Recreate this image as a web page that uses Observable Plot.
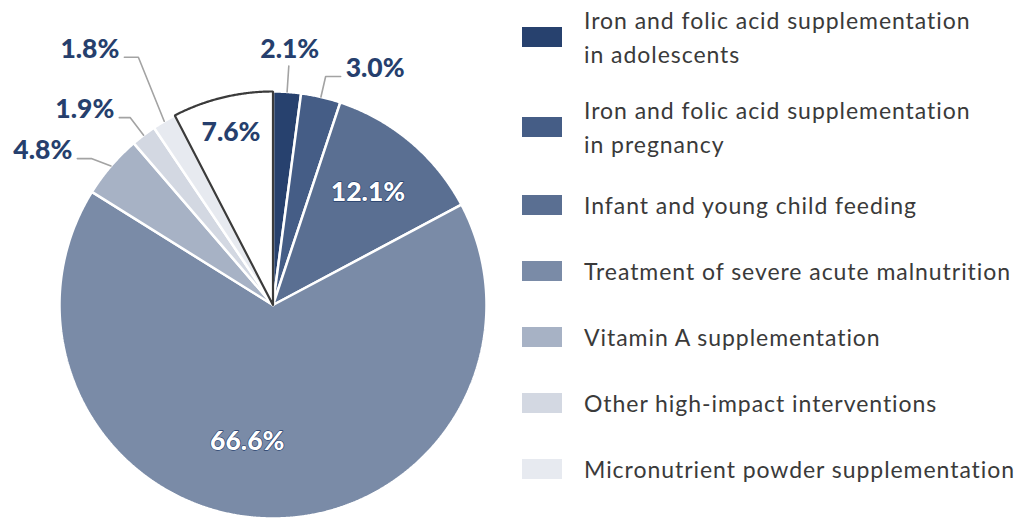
<!DOCTYPE html>
<html><head><meta charset="utf-8">
<script src="https://cdn.jsdelivr.net/npm/d3@7"></script>
<script src="https://cdn.jsdelivr.net/npm/@observablehq/plot@0.6"></script>
<style>
html,body{margin:0;padding:0;background:#fff;}
#wrap{position:relative;width:1029px;height:521px;display:flex;overflow:hidden;}
#legend{padding-top:8px;margin-left:17px;display:flex;flex-direction:column;gap:32px;font-family:Lato,"Open Sans",sans-serif;font-size:23px;letter-spacing:0.95px;font-variant-ligatures:none;color:#3a3a3a;}
.item{display:flex;align-items:center;}
.item.two{margin:-5px 0;}
.sw{width:40px;height:20px;flex:none;margin-right:22px;}
.lbl{line-height:34px;white-space:pre-line;}
svg text{font-variant-ligatures:none;}
</style></head><body>
<div id="wrap"><div id="chart"></div><div id="legend"></div></div>
<script>
// ---- data ----
const categories = [
  "Iron and folic acid supplementation\nin adolescents",
  "Iron and folic acid supplementation\nin pregnancy",
  "Infant and young child feeding",
  "Treatment of severe acute malnutrition",
  "Vitamin A supplementation",
  "Other high-impact interventions",
  "Micronutrient powder supplementation",
  "Unallocated"
];
const values = [2.1, 3.0, 12.1, 66.6, 4.8, 1.9, 1.8, 7.6];
const colors = ["#27416e", "#455d86", "#5a6f92", "#7a8ba7", "#a7b2c5", "#d3d8e2", "#e7eaf0", "#ffffff"];
const inLegend = [true, true, true, true, true, true, true, false];

// ---- layout ----
const W = 505, H = 521, CX = 272.5, CY = 304.5, R = 213.5;
const NAVY = "#263f6d";
// label placement per slice
const labelLayout = [
  {mode: "up", len: 26},
  {mode: "right", len: 21, arm: 15},
  {mode: "in", r: 0.69, fill: "white"},
  {mode: "in", r: 0.64, dx: -21, fill: "white"},
  {mode: "left", len: 21, lean: 290.6, arm: 14},
  {mode: "left", len: 22, arm: 11},
  {mode: "left", len: 69, lean: 338, arm: 14},
  {mode: "in", r: 0.83}
];

const arcs = d3.pie().sort(null).value(d => d)(values);
const slices = arcs.map((a, i) => ({
  i, name: categories[i], value: values[i], a0: a.startAngle, a1: a.endAngle,
  mid: (a.startAngle + a.endAngle) / 2
}));
const pt = (ang, r) => ({x: Math.sin(ang) * r, y: -Math.cos(ang) * r});

function wedge(s) {
  const pts = [{...pt(0, 0), name: s.name}];
  const n = Math.max(2, Math.ceil((s.a1 - s.a0) / 0.005));
  for (let k = 0; k <= n; k++) pts.push({...pt(s.a0 + (s.a1 - s.a0) * k / n, 1), name: s.name});
  pts.push({...pt(0, 0), name: s.name});
  return pts;
}
const filled = slices.filter(s => inLegend[s.i]).flatMap(wedge);
const outlined = slices.filter(s => !inLegend[s.i]).flatMap(wedge);

// leaders and labels
const leaders = [], labels = [];
slices.forEach(s => {
  const L = labelLayout[s.i];
  const text = s.value.toFixed(1) + "%";
  if (L.mode === "in") {
    const p = pt(s.mid, L.r);
    labels.push({...p, text, anchor: "middle", dx: L.dx || 0, dy: 0, fill: L.fill || NAVY, inner: !!L.fill});
  } else {
    const p0 = pt(s.mid, 1.0);
    const lean = L.lean != null ? L.lean * Math.PI / 180 : s.mid;
    const d = pt(lean, L.len / R);
    const p1 = {x: p0.x + d.x, y: p0.y + d.y};
    const seg = [p0, p1];
    if (L.mode === "up") {
      labels.push({...p1, text, anchor: "middle", dx: 1, dy: -17, fill: NAVY});
    } else {
      const sgn = L.mode === "right" ? 1 : -1;
      const p2 = {x: p1.x + sgn * L.arm / R, y: p1.y};
      seg.push(p2);
      labels.push({...p2, text, anchor: sgn > 0 ? "start" : "end", dx: sgn * 5, dy: -8, fill: NAVY});
    }
    seg.forEach(q => leaders.push({...q, key: s.i}));
  }
});

const outerLabels = labels.filter(l => !l.inner);
const innerLabels = labels.filter(l => l.inner);
const labelFont = {fontFamily: "Lato, 'Open Sans', sans-serif", fontWeight: 900, fontSize: 26.5, lineAnchor: "middle"};

const chart = Plot.plot({
  width: W, height: H,
  margin: 0,
  x: {domain: [-CX / R, (W - CX) / R], range: [0, W], axis: null},
  y: {domain: [-CY / R, (H - CY) / R], range: [0, H], axis: null},
  color: {domain: categories, range: colors},
  style: {background: "transparent", overflow: "visible"},
  marks: [
    Plot.line(filled, {x: "x", y: "y", z: "name", fill: "name", stroke: "white", strokeWidth: 2.5, strokeLinejoin: "miter", curve: "linear"}),
    Plot.line(outlined, {x: "x", y: "y", z: "name", fill: "white", stroke: "#3b3b3b", strokeWidth: 2.2, strokeLinejoin: "miter", curve: "linear"}),
    Plot.line(leaders, {x: "x", y: "y", z: "key", stroke: "#a3a3a3", strokeWidth: 1.6, curve: "linear"}),
    ...outerLabels.map(l => Plot.text([l], {x: "x", y: "y", text: "text", textAnchor: l.anchor, dx: l.dx, dy: l.dy, fill: l.fill, ...labelFont})),
    ...innerLabels.map(l => Plot.text([l], {x: "x", y: "y", text: "text", textAnchor: l.anchor, dx: l.dx, dy: l.dy, fill: "white", stroke: NAVY, strokeWidth: 1.3, ...labelFont}))
  ]
});
document.getElementById("chart").appendChild(chart);

// legend
const leg = document.getElementById("legend");
categories.forEach((c, i) => {
  if (!inLegend[i]) return;
  const it = document.createElement("div");
  it.className = "item" + (c.includes("\n") ? " two" : "");
  const sw = document.createElement("div");
  sw.className = "sw"; sw.style.background = colors[i];
  const lb = document.createElement("div");
  lb.className = "lbl"; lb.textContent = c;
  it.appendChild(sw); it.appendChild(lb);
  leg.appendChild(it);
});
</script>
</body></html>
